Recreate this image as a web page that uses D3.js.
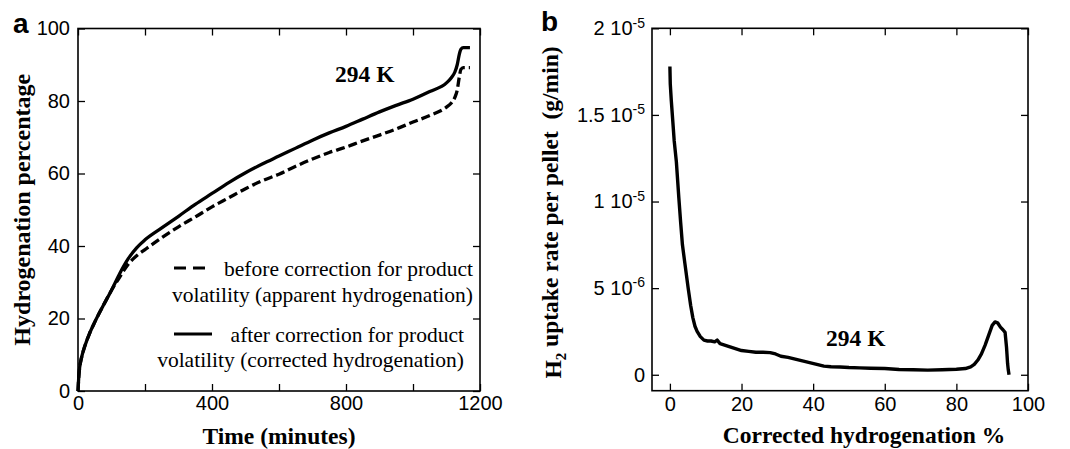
<!DOCTYPE html>
<html>
<head>
<meta charset="utf-8">
<script src="https://cdn.jsdelivr.net/npm/d3@7"></script>
<style>
  html, body { margin: 0; padding: 0; background: #fff; }
  svg { display: block; }
  .sans { font-family: "Liberation Sans", Arial, sans-serif; }
  .serif { font-family: "Liberation Serif", "Times New Roman", serif; }
</style>
</head>
<body>
<svg id="chart" width="1070" height="449"></svg>
<script>
// ---------- Panel a data ----------
const timeA = [0, 2, 5, 10, 20, 35, 50, 75, 100, 125, 150, 175, 200, 250, 300, 350, 400, 450, 500, 550, 600, 650, 700, 750, 800, 850, 900, 950, 1000, 1050, 1100, 1115, 1125, 1132, 1138, 1143, 1150, 1160, 1170];
const correctedA = [0, 3.5, 6.5, 9, 12.3, 16, 19, 23.5, 27.8, 32.5, 36.5, 39.5, 41.7, 45, 48.2, 51.5, 54.5, 57.5, 60.2, 62.6, 64.8, 67, 69.2, 71.2, 73, 75, 77, 78.8, 80.5, 82.6, 85, 86.5, 88, 90, 92.8, 94.3, 94.7, 94.7, 94.7];
const apparentA = [0, 3.5, 6.5, 9, 12.3, 16, 19, 23.5, 27.8, 31.5, 35, 37.3, 39, 42.3, 45.3, 48, 50.8, 53.3, 55.8, 58, 59.8, 62, 64, 65.8, 67.3, 69, 70.6, 72.3, 74.2, 76, 78.3, 79.5, 81, 83, 86.5, 88.7, 89.2, 89.2, 89.2];
const xTicksA = [0, 200, 400, 600, 800, 1000, 1200];
const xTickLabelsA = ["0", "", "400", "", "800", "", "1200"];
const yTicksA = [0, 20, 40, 60, 80, 100];
const legendLabelsA = [
  ["before correction for product", "volatility (apparent hydrogenation)"],
  ["after correction for product", "volatility (corrected hydrogenation)"]
];

// ---------- Panel b data ----------
const pctB = [0, 0.1, 0.4, 0.75, 1.2, 1.8, 2.5, 3.0, 3.5, 4.2, 5.1, 5.8, 6.4, 7.0, 7.6, 8.5, 9.5, 10.5, 11.5, 12.5, 13.2, 14, 15.5, 17, 18.5, 20, 22, 24, 26, 28, 29.5, 31, 33, 35, 37, 39, 41, 43, 45, 47.5, 50, 53, 56, 60, 64, 68, 72, 76, 80, 82.5, 84, 85, 86, 87, 88, 89, 90, 90.8, 91.5, 92.3, 93, 93.6, 94.0, 94.3, 94.5, 94.7];
const rateB = [17.8e-6, 16.8e-6, 15.8e-6, 14.8e-6, 13.5e-6, 12.3e-6, 10.2e-6, 8.8e-6, 7.5e-6, 6.4e-6, 5.0e-6, 4.0e-6, 3.3e-6, 2.8e-6, 2.5e-6, 2.2e-6, 2.0e-6, 1.95e-6, 1.95e-6, 1.9e-6, 2.0e-6, 1.8e-6, 1.7e-6, 1.6e-6, 1.5e-6, 1.4e-6, 1.35e-6, 1.3e-6, 1.3e-6, 1.28e-6, 1.2e-6, 1.07e-6, 1.0e-6, 0.9e-6, 0.8e-6, 0.7e-6, 0.6e-6, 0.5e-6, 0.46e-6, 0.45e-6, 0.42e-6, 0.4e-6, 0.38e-6, 0.36e-6, 0.3e-6, 0.29e-6, 0.27e-6, 0.29e-6, 0.32e-6, 0.36e-6, 0.46e-6, 0.6e-6, 0.85e-6, 1.2e-6, 1.7e-6, 2.27e-6, 2.85e-6, 3.05e-6, 3.0e-6, 2.75e-6, 2.6e-6, 2.45e-6, 1.6e-6, 0.65e-6, 0.27e-6, 0];
const xTicksB = [0, 20, 40, 60, 80, 100];
const yTicksB = [0, 5e-6, 1e-5, 1.5e-5, 2e-5];
const yTickMantB = ["0", "5 10", "1 10", "1.5 10", "2 10"];
const yTickExpB = ["", "-6", "-5", "-5", "-5"];

const svg = d3.select("#chart");
const TICK = 7;

function frameAxes(g, x, y, w, h, opts) {
  const bottom = d3.axisBottom(x).tickValues(opts.xTicks).tickSizeInner(-TICK).tickSizeOuter(0).tickPadding(opts.xPad).tickFormat(opts.xFmt);
  const top = d3.axisTop(x).tickValues(opts.xTicks).tickSizeInner(-TICK).tickSizeOuter(0).tickFormat("");
  const left = d3.axisLeft(y).tickValues(opts.yTicks).tickSizeInner(-TICK).tickSizeOuter(0).tickPadding(opts.yPad).tickFormat(opts.yFmt || null);
  const right = d3.axisRight(y).tickValues(opts.yTicks).tickSizeInner(-TICK).tickSizeOuter(0).tickFormat("");
  const gb = g.append("g").attr("transform", `translate(0,${h})`).call(bottom);
  g.append("g").call(top);
  const gl = g.append("g").call(left);
  g.append("g").attr("transform", `translate(${w},0)`).call(right);
  g.selectAll(".domain").remove();
  g.selectAll(".tick line").attr("stroke", "#000").attr("stroke-width", 1.3);
  g.selectAll(".tick text").attr("fill", "#000").attr("font-family", '"Liberation Sans", Arial, sans-serif').attr("font-size", 20);
  g.append("rect").attr("x", 0).attr("y", 0).attr("width", w).attr("height", h)
    .attr("fill", "none").attr("stroke", "#000").attr("stroke-width", 1.6);
  return {gb, gl};
}

// ================= Panel a =================
{
  const L = 78, T = 28.5, R = 480, B = 391;
  const w = R - L, h = B - T;
  const g = svg.append("g").attr("transform", `translate(${L},${T})`);
  const x = d3.scaleLinear().domain([0, 1200]).range([0, w]);
  const y = d3.scaleLinear().domain([0, 100]).range([h, 0]);

  const line = d3.line().x((d, i) => x(timeA[i])).y(d => y(d)).curve(d3.curveMonotoneX);

  g.append("path").datum(apparentA).attr("d", line)
    .attr("fill", "none").attr("stroke", "#000").attr("stroke-width", 3.3)
    .attr("stroke-dasharray", "9,4");
  g.append("path").datum(correctedA).attr("d", line)
    .attr("fill", "none").attr("stroke", "#000").attr("stroke-width", 3.3);

  frameAxes(g, x, y, w, h, {
    xTicks: xTicksA, xPad: 5, xFmt: (d, i) => xTickLabelsA[i],
    yTicks: yTicksA, yPad: 8
  });

  // legend
  const lg = svg.append("g").attr("class", "serif").attr("font-size", 21.5).attr("fill", "#000");
  lg.append("line").attr("x1", 174).attr("x2", 209).attr("y1", 268).attr("y2", 268)
    .attr("stroke", "#000").attr("stroke-width", 3.2).attr("stroke-dasharray", "12,7");
  lg.append("text").attr("x", 473).attr("y", 276).attr("text-anchor", "end").text(legendLabelsA[0][0]);
  lg.append("text").attr("x", 473).attr("y", 302).attr("text-anchor", "end").text(legendLabelsA[0][1]);
  lg.append("line").attr("x1", 174).attr("x2", 212).attr("y1", 334).attr("y2", 334)
    .attr("stroke", "#000").attr("stroke-width", 3.2);
  lg.append("text").attr("x", 464).attr("y", 342).attr("text-anchor", "end").text(legendLabelsA[1][0]);
  lg.append("text").attr("x", 464).attr("y", 367).attr("text-anchor", "end").text(legendLabelsA[1][1]);

  svg.append("text").attr("class", "serif").attr("font-weight", "bold").attr("font-size", 23.5)
    .attr("x", 335).attr("y", 82).text("294 K");

  svg.append("text").attr("class", "serif").attr("font-weight", "bold").attr("font-size", 23.5)
    .attr("x", (L + R) / 2).attr("y", 444).attr("text-anchor", "middle").text("Time (minutes)");
  svg.append("text").attr("class", "serif").attr("font-weight", "bold").attr("font-size", 24)
    .attr("transform", `translate(30,${(T + B) / 2}) rotate(-90)`).attr("text-anchor", "middle")
    .text("Hydrogenation percentage");

  svg.append("text").attr("class", "sans").attr("font-weight", "bold").attr("font-size", 28)
    .attr("x", 13).attr("y", 33).text("a");
}

// ================= Panel b =================
{
  const L = 652, T = 28.3, R = 1028, B = 390.7;
  const w = R - L, h = B - T;
  const g = svg.append("g").attr("transform", `translate(${L},${T})`);
  const x = d3.scaleLinear().domain([-5, 100]).range([0, w]);
  const y = d3.scaleLinear().domain([-0.92e-6, 2e-5]).range([h, 0]);

  const line = d3.line().x((d, i) => x(pctB[i])).y(d => y(d));
  g.append("path").datum(rateB).attr("d", line)
    .attr("fill", "none").attr("stroke", "#000").attr("stroke-width", 3.4)
    .attr("stroke-linejoin", "round");

  const {gl} = frameAxes(g, x, y, w, h, {
    xTicks: xTicksB, xPad: 6, xFmt: d3.format("d"),
    yTicks: yTicksB, yPad: 7, yFmt: () => ""
  });
  gl.selectAll(".tick text").each(function(d, i) {
    const t = d3.select(this);
    t.text(null);
    t.append("tspan").text(yTickMantB[i]);
    if (yTickExpB[i]) {
      t.append("tspan").attr("font-size", 14).attr("dy", "-0.55em").text(yTickExpB[i]);
    }
  });

  svg.append("text").attr("class", "serif").attr("font-weight", "bold").attr("font-size", 23.5)
    .attr("x", 826).attr("y", 346).text("294 K");

  svg.append("text").attr("class", "serif").attr("font-weight", "bold").attr("font-size", 23.5)
    .attr("x", 864).attr("y", 443).attr("text-anchor", "middle").text("Corrected hydrogenation %");

  const yt = svg.append("text").attr("class", "serif").attr("font-weight", "bold").attr("font-size", 23.5)
    .attr("transform", `translate(561,${(T + B) / 2 + 3}) rotate(-90)`).attr("text-anchor", "middle");
  yt.append("tspan").text("H");
  yt.append("tspan").attr("font-size", 15).attr("dy", "0.3em").text("2");
  yt.append("tspan").attr("dy", "-0.3em").text(" uptake rate per pellet \u00a0(g/min)");

  svg.append("text").attr("class", "sans").attr("font-weight", "bold").attr("font-size", 28)
    .attr("x", 541).attr("y", 31).text("b");
}
</script>
</body>
</html>
